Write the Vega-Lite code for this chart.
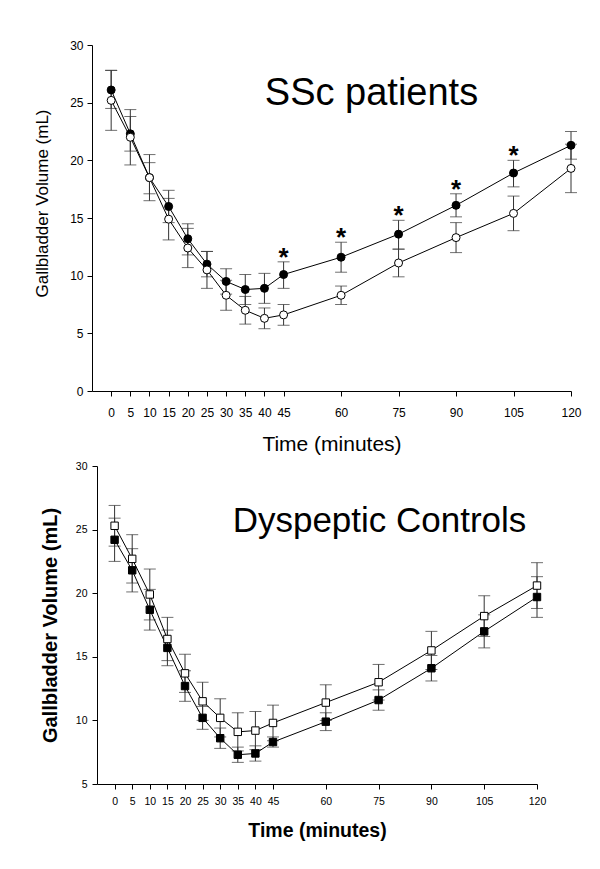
{
  "$schema": "https://vega.github.io/schema/vega-lite/v6.json",
  "background": "white",
  "padding": {"left": 33, "top": 39, "right": 5, "bottom": 5},
  "spacing": 7,
  "config": {
    "view": {"stroke": null},
    "font": "Liberation Sans",
    "axis": {"grid": false, "domainColor": "black", "tickColor": "black", "labelColor": "black", "titleColor": "black", "labelFont": "Liberation Sans", "titleFont": "Liberation Sans", "domainWidth": 1, "tickWidth": 1}
  },
  "datasets": {
    "ssc": [
      {"group": "Group A", "time": 0, "mean": 26.1, "lo": 24.5, "hi": 27.8, "star": false},
      {"group": "Group A", "time": 5, "mean": 22.3, "lo": 20.8, "hi": 23.8, "star": false},
      {"group": "Group A", "time": 10, "mean": 18.5, "lo": 17.1, "hi": 19.8, "star": false},
      {"group": "Group A", "time": 15, "mean": 16.0, "lo": 14.6, "hi": 17.4, "star": false},
      {"group": "Group A", "time": 20, "mean": 13.2, "lo": 11.8, "hi": 14.5, "star": false},
      {"group": "Group A", "time": 25, "mean": 11.0, "lo": 9.9, "hi": 12.1, "star": false},
      {"group": "Group A", "time": 30, "mean": 9.5, "lo": 8.4, "hi": 10.6, "star": false},
      {"group": "Group A", "time": 35, "mean": 8.8, "lo": 7.5, "hi": 10.1, "star": false},
      {"group": "Group A", "time": 40, "mean": 8.9, "lo": 7.6, "hi": 10.2, "star": false},
      {"group": "Group A", "time": 45, "mean": 10.1, "lo": 8.9, "hi": 11.2, "star": true},
      {"group": "Group A", "time": 60, "mean": 11.6, "lo": 10.3, "hi": 12.9, "star": true},
      {"group": "Group A", "time": 75, "mean": 13.6, "lo": 12.3, "hi": 14.8, "star": true},
      {"group": "Group A", "time": 90, "mean": 16.1, "lo": 15.1, "hi": 17.1, "star": true},
      {"group": "Group A", "time": 105, "mean": 18.9, "lo": 17.7, "hi": 20.0, "star": true},
      {"group": "Group A", "time": 120, "mean": 21.3, "lo": 20.1, "hi": 22.5, "star": false},
      {"group": "Group B", "time": 0, "mean": 25.2, "lo": 22.6, "hi": 27.8, "star": false},
      {"group": "Group B", "time": 5, "mean": 22.0, "lo": 19.6, "hi": 24.4, "star": false},
      {"group": "Group B", "time": 10, "mean": 18.5, "lo": 16.5, "hi": 20.5, "star": false},
      {"group": "Group B", "time": 15, "mean": 14.9, "lo": 13.1, "hi": 16.7, "star": false},
      {"group": "Group B", "time": 20, "mean": 12.4, "lo": 10.7, "hi": 14.1, "star": false},
      {"group": "Group B", "time": 25, "mean": 10.5, "lo": 8.9, "hi": 12.1, "star": false},
      {"group": "Group B", "time": 30, "mean": 8.3, "lo": 7.0, "hi": 9.6, "star": false},
      {"group": "Group B", "time": 35, "mean": 7.0, "lo": 5.8, "hi": 8.2, "star": false},
      {"group": "Group B", "time": 40, "mean": 6.3, "lo": 5.4, "hi": 7.2, "star": false},
      {"group": "Group B", "time": 45, "mean": 6.6, "lo": 5.7, "hi": 7.5, "star": false},
      {"group": "Group B", "time": 60, "mean": 8.3, "lo": 7.5, "hi": 9.1, "star": false},
      {"group": "Group B", "time": 75, "mean": 11.1, "lo": 9.9, "hi": 12.3, "star": false},
      {"group": "Group B", "time": 90, "mean": 13.3, "lo": 12.0, "hi": 14.6, "star": false},
      {"group": "Group B", "time": 105, "mean": 15.4, "lo": 13.9, "hi": 16.9, "star": false},
      {"group": "Group B", "time": 120, "mean": 19.3, "lo": 17.2, "hi": 21.4, "star": false}
    ],
    "ctrl": [
      {"group": "Group A", "time": 0, "mean": 24.2, "lo": 22.5, "hi": 25.9},
      {"group": "Group A", "time": 5, "mean": 21.8, "lo": 20.1, "hi": 23.5},
      {"group": "Group A", "time": 10, "mean": 18.7, "lo": 17.1, "hi": 20.3},
      {"group": "Group A", "time": 15, "mean": 15.7, "lo": 14.3, "hi": 17.1},
      {"group": "Group A", "time": 20, "mean": 12.7, "lo": 11.5, "hi": 13.9},
      {"group": "Group A", "time": 25, "mean": 10.2, "lo": 9.3, "hi": 11.1},
      {"group": "Group A", "time": 30, "mean": 8.6, "lo": 7.8, "hi": 9.4},
      {"group": "Group A", "time": 35, "mean": 7.3, "lo": 6.7, "hi": 7.9},
      {"group": "Group A", "time": 40, "mean": 7.4, "lo": 6.8, "hi": 8.0},
      {"group": "Group A", "time": 45, "mean": 8.3, "lo": 7.9, "hi": 8.7},
      {"group": "Group A", "time": 60, "mean": 9.9, "lo": 9.2, "hi": 10.6},
      {"group": "Group A", "time": 75, "mean": 11.6, "lo": 10.8, "hi": 12.4},
      {"group": "Group A", "time": 90, "mean": 14.1, "lo": 13.1, "hi": 15.1},
      {"group": "Group A", "time": 105, "mean": 17.0, "lo": 15.7, "hi": 18.3},
      {"group": "Group A", "time": 120, "mean": 19.7, "lo": 18.1, "hi": 21.3},
      {"group": "Group B", "time": 0, "mean": 25.3, "lo": 23.7, "hi": 26.9},
      {"group": "Group B", "time": 5, "mean": 22.7, "lo": 20.8, "hi": 24.6},
      {"group": "Group B", "time": 10, "mean": 19.9, "lo": 17.9, "hi": 21.9},
      {"group": "Group B", "time": 15, "mean": 16.4, "lo": 14.7, "hi": 18.1},
      {"group": "Group B", "time": 20, "mean": 13.7, "lo": 12.2, "hi": 15.2},
      {"group": "Group B", "time": 25, "mean": 11.5, "lo": 10.0, "hi": 13.0},
      {"group": "Group B", "time": 30, "mean": 10.2, "lo": 8.7, "hi": 11.7},
      {"group": "Group B", "time": 35, "mean": 9.1, "lo": 7.6, "hi": 10.6},
      {"group": "Group B", "time": 40, "mean": 9.2, "lo": 7.7, "hi": 10.7},
      {"group": "Group B", "time": 45, "mean": 9.8, "lo": 8.4, "hi": 11.2},
      {"group": "Group B", "time": 60, "mean": 11.4, "lo": 10.0, "hi": 12.8},
      {"group": "Group B", "time": 75, "mean": 13.0, "lo": 11.6, "hi": 14.4},
      {"group": "Group B", "time": 90, "mean": 15.5, "lo": 14.0, "hi": 17.0},
      {"group": "Group B", "time": 105, "mean": 18.2, "lo": 16.6, "hi": 19.8},
      {"group": "Group B", "time": 120, "mean": 20.6, "lo": 18.8, "hi": 22.4}
    ]
  },
  "vconcat": [
    {
      "width": 479,
      "height": 346,
      "title": {"text": "SSc patients", "fontSize": 38, "fontWeight": "normal", "font": "Liberation Sans", "color": "black", "anchor": "middle", "frame": "group", "baseline": "alphabetic", "offset": -104, "dx": 40},
      "data": {"name": "ssc"},
      "encoding": {
        "x": {"field": "time", "type": "quantitative", "scale": {"domain": [-5, 120], "nice": false, "zero": false},
          "axis": {"values": [0, 5, 10, 15, 20, 25, 30, 35, 40, 45, 60, 75, 90, 105, 120], "title": "Time (minutes)", "labelFontSize": 12, "tickSize": 5, "labelPadding": 11, "labelOverlap": false, "labelFlush": false, "titleFontSize": 21, "titleFontWeight": "normal", "titlePadding": 15}},
        "y": {"field": "mean", "type": "quantitative", "scale": {"domain": [0, 30], "nice": false, "zero": false},
          "axis": {"values": [0, 5, 10, 15, 20, 25, 30], "title": "Gallbladder Volume (mL)", "labelFontSize": 12, "tickSize": 5, "labelPadding": 4, "titleFontSize": 17, "titleFontWeight": "normal", "titlePadding": 18, "titleY": 158}}
      },
      "layer": [
        {"mark": {"type": "rule", "color": "#333", "strokeWidth": 1}, "encoding": {"y": {"field": "lo", "type": "quantitative", "title": "Gallbladder Volume (mL)"}, "y2": {"field": "hi"}}},
        {"mark": {"type": "tick", "orient": "horizontal", "color": "#333", "size": 12, "thickness": 1}, "encoding": {"y": {"field": "lo", "type": "quantitative", "title": "Gallbladder Volume (mL)"}}},
        {"mark": {"type": "tick", "orient": "horizontal", "color": "#333", "size": 12, "thickness": 1}, "encoding": {"y": {"field": "hi", "type": "quantitative", "title": "Gallbladder Volume (mL)"}}},
        {"mark": {"type": "line", "color": "black", "strokeWidth": 1}, "encoding": {"detail": {"field": "group"}}},
        {"mark": {"type": "point", "shape": "circle", "size": 64, "stroke": "black", "strokeWidth": 1, "opacity": 1, "filled": true},
          "encoding": {"fill": {"field": "group", "type": "nominal", "scale": {"domain": ["Group A", "Group B"], "range": ["black", "white"]}, "legend": null}}},
        {"transform": [{"filter": "datum.star"}], "mark": {"type": "text", "text": "*", "fontSize": 26, "fontWeight": "bold", "baseline": "alphabetic", "align": "center", "dy": 4, "color": "black"},
          "encoding": {"y": {"field": "hi", "type": "quantitative", "title": "Gallbladder Volume (mL)"}}}
      ]
    },
    {
      "width": 445,
      "height": 318,
      "title": {"text": "Dyspeptic Controls", "fontSize": 35, "fontWeight": "normal", "font": "Liberation Sans", "color": "black", "anchor": "middle", "frame": "group", "baseline": "alphabetic", "offset": -106, "dx": 65},
      "data": {"name": "ctrl"},
      "encoding": {
        "x": {"field": "time", "type": "quantitative", "scale": {"domain": [-5, 120], "range": [5, 445], "nice": false, "zero": false},
          "axis": {"values": [0, 5, 10, 15, 20, 25, 30, 35, 40, 45, 60, 75, 90, 105, 120], "title": "Time (minutes)", "labelFontSize": 10.5, "tickSize": 5, "labelPadding": 7, "labelOverlap": false, "labelFlush": false, "titleFontSize": 19.5, "titleFontWeight": "bold", "titlePadding": 14.5}},
        "y": {"field": "mean", "type": "quantitative", "scale": {"domain": [5, 30], "nice": false, "zero": false},
          "axis": {"values": [5, 10, 15, 20, 25, 30], "offset": -5, "title": "Gallbladder Volume (mL)", "labelFontSize": 10.5, "tickSize": 5, "labelPadding": 5, "titleFontSize": 20, "titleFontWeight": "bold", "titlePadding": 15}}
      },
      "layer": [
        {"mark": {"type": "rule", "color": "#333", "strokeWidth": 1}, "encoding": {"y": {"field": "lo", "type": "quantitative", "title": "Gallbladder Volume (mL)"}, "y2": {"field": "hi"}}},
        {"mark": {"type": "tick", "orient": "horizontal", "color": "#333", "size": 12, "thickness": 1}, "encoding": {"y": {"field": "lo", "type": "quantitative", "title": "Gallbladder Volume (mL)"}}},
        {"mark": {"type": "tick", "orient": "horizontal", "color": "#333", "size": 12, "thickness": 1}, "encoding": {"y": {"field": "hi", "type": "quantitative", "title": "Gallbladder Volume (mL)"}}},
        {"mark": {"type": "line", "color": "black", "strokeWidth": 1}, "encoding": {"detail": {"field": "group"}}},
        {"mark": {"type": "point", "shape": "square", "size": 55, "stroke": "black", "strokeWidth": 1, "opacity": 1, "filled": true},
          "encoding": {"fill": {"field": "group", "type": "nominal", "scale": {"domain": ["Group A", "Group B"], "range": ["black", "white"]}, "legend": null}}}
      ]
    }
  ]
}
